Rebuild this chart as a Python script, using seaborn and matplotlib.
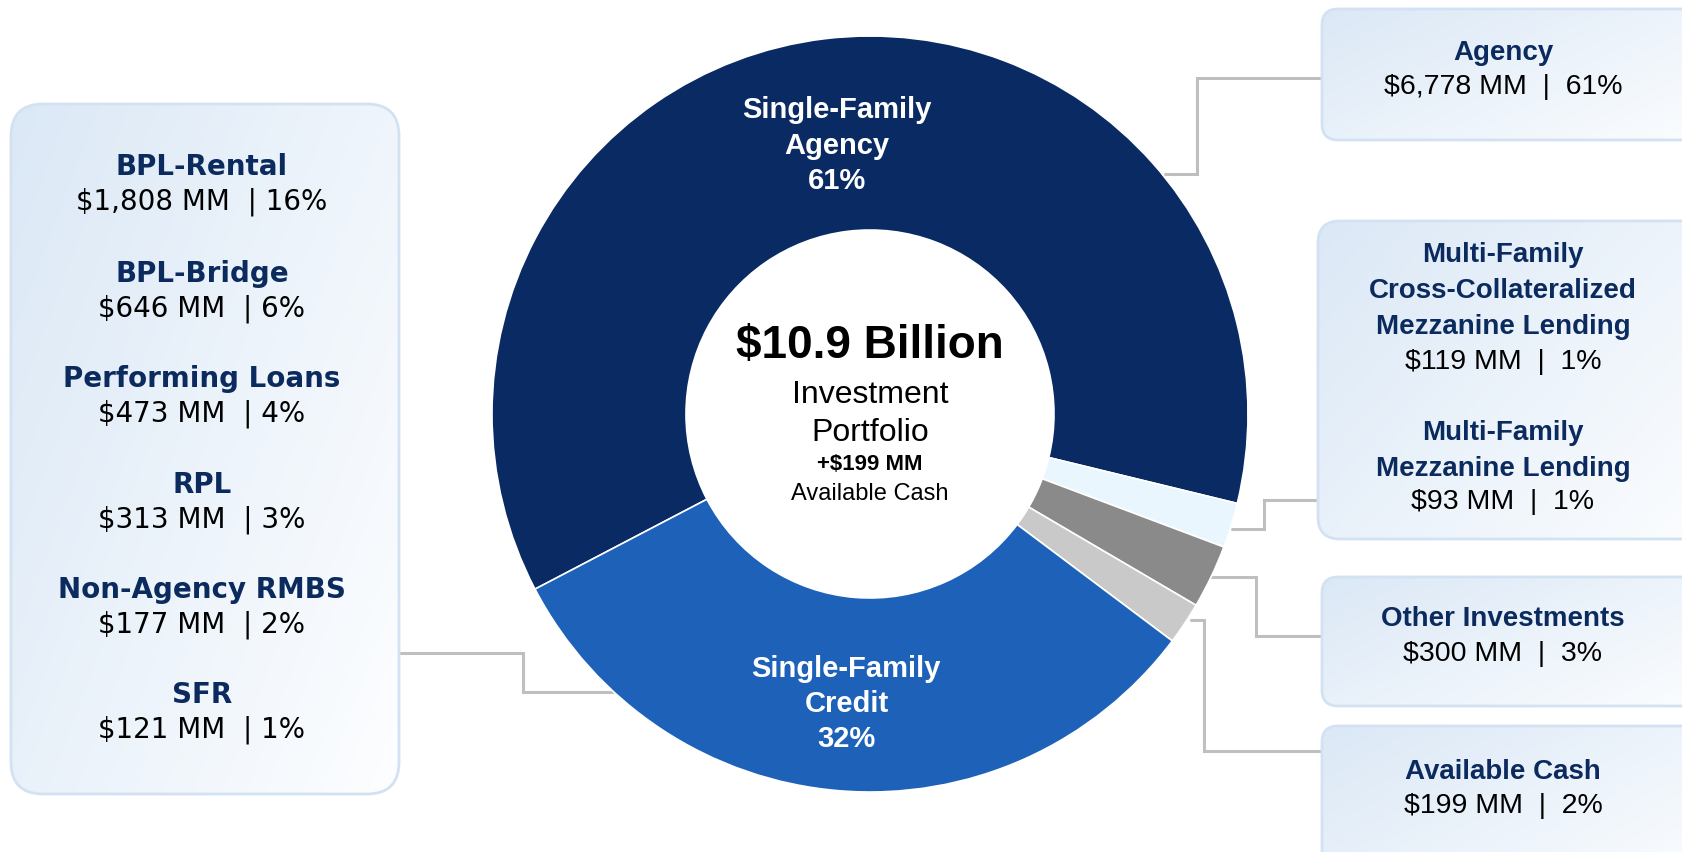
import numpy as np
import seaborn as sns
import matplotlib.pyplot as plt
from matplotlib.patches import FancyBboxPatch

# ---- data ----
slice_names = ["Single-Family Agency", "Multi-Family", "Other Investments",
               "Available Cash", "Single-Family Credit"]
credit_names = ["BPL-Rental", "BPL-Bridge", "Performing Loans", "RPL",
                "Non-Agency RMBS", "SFR"]
credit_values = [1808, 646, 473, 313, 177, 121]
credit_pcts = [16, 6, 4, 3, 2, 1]
mf_names = ["Multi-Family\nCross-Collateralized\nMezzanine Lending",
            "Multi-Family\nMezzanine Lending"]
mf_values = [119, 93]
mf_pcts = [1, 1]
agency_value, agency_pct = 6778, 61
other_value, other_pct = 300, 3
cash_value, cash_pct = 199, 2
credit_total_pct = 32

slice_values = [agency_value, sum(mf_values), other_value, cash_value, sum(credit_values)]
slice_colors = ["#0a2a63", "#eaf6fd", "#8a8a8a", "#c9c9c9", "#1d62b8"]

NAVY = "#0b2a5e"
LINE = "#bfbfbf"
W, H = 1683, 852

sns.set_theme(style="white")
plt.rcParams["font.family"] = ["Liberation Sans", "DejaVu Sans"]

fig = plt.figure(figsize=(W / 100, H / 100), dpi=100)
fig.patch.set_facecolor("white")

# background axes in pixel units (y down)
ax = fig.add_axes([0, 0, 1, 1])
ax.set_axis_off()


def gradient_box(x0, y0, w, h, rad):
    patch = FancyBboxPatch((x0, y0), w, h,
                           boxstyle=f"round,pad=0,rounding_size={rad}",
                           fc="none", ec="#d3e2f2", lw=2, zorder=3)
    ax.add_patch(patch)
    n = 200
    xx, yy = np.meshgrid(np.linspace(0, 1, n), np.linspace(0, 1, n))
    t = np.clip((xx * 0.6 + yy * 0.4), 0, 1)[..., None]
    c0 = np.array([219, 232, 246]) / 255
    c1 = np.array([253, 254, 255]) / 255
    img = c0 * (1 - t) + c1 * t
    im = ax.imshow(img, extent=(x0, x0 + w, y0 + h, y0), aspect="auto",
                   zorder=2, interpolation="bilinear")
    im.set_clip_path(patch)


def fmt(v, p):
    return f"${v:,} MM  |  {p}%"


# boxes
gradient_box(11, 104, 388, 690, 32)
gradient_box(1322, 9, 420, 131, 16)
gradient_box(1318, 221, 420, 318, 22)
gradient_box(1322, 577, 420, 129, 16)
gradient_box(1322, 726, 420, 160, 16)

# left box text
left_y = [167, 274, 379, 485, 590, 695]
for name, v, p, y in zip(credit_names, credit_values, credit_pcts, left_y):
    ax.text(202, y, name, ha="center", va="center", fontsize=20,
            fontweight="bold", color=NAVY, family="DejaVu Sans", zorder=5)
    ax.text(202, y + 35, f"${v:,} MM  | {p}%", ha="center", va="center",
            fontsize=20, color="black", family="DejaVu Sans", zorder=5)

# right boxes text
rx = 1503
ax.text(rx, 53, "Agency", ha="center", va="center", fontsize=20,
        fontweight="bold", color=NAVY, zorder=5)
ax.text(rx, 87, fmt(agency_value, agency_pct), ha="center", va="center",
        fontsize=20.5, color="black", zorder=5)

ax.text(rx, 291, mf_names[0], ha="center", va="center", fontsize=20,
        fontweight="bold", color=NAVY, linespacing=1.5, zorder=5)
ax.text(rx, 362, fmt(mf_values[0], mf_pcts[0]), ha="center", va="center",
        fontsize=20.5, color="black", zorder=5)
ax.text(rx, 451, mf_names[1], ha="center", va="center", fontsize=20,
        fontweight="bold", color=NAVY, linespacing=1.5, zorder=5)
ax.text(rx, 502, fmt(mf_values[1], mf_pcts[1]), ha="center", va="center",
        fontsize=20.5, color="black", zorder=5)

ax.text(rx, 619, "Other Investments", ha="center", va="center", fontsize=20,
        fontweight="bold", color=NAVY, zorder=5)
ax.text(rx, 654, fmt(other_value, other_pct), ha="center", va="center",
        fontsize=20.5, color="black", zorder=5)

ax.text(rx, 772, "Available Cash", ha="center", va="center", fontsize=20,
        fontweight="bold", color=NAVY, zorder=5)
ax.text(rx, 806, fmt(cash_value, cash_pct), ha="center", va="center",
        fontsize=20.5, color="black", zorder=5)

# connector lines
connectors = [
    [(1165, 174), (1197, 174), (1197, 78), (1322, 78)],
    [(1232, 529), (1264, 529), (1264, 500), (1318, 500)],
    [(1207, 577), (1256, 577), (1256, 636), (1322, 636)],
    [(1191, 620), (1204, 620), (1204, 751), (1322, 751)],
    [(399, 653), (523, 653), (523, 692), (614, 692)],
]
for path in connectors:
    xs, ys = zip(*path)
    ax.plot(xs, ys, color=LINE, lw=2.2, zorder=1, solid_joinstyle="miter")

# center text
cx, cy = 870, 414
ax.text(cx, 346, "$10.9 Billion", ha="center", va="center", fontsize=33,
        fontweight="bold", color="black", zorder=5)
ax.text(cx, 414, "Investment\nPortfolio", ha="center", va="center",
        fontsize=23, color="black", linespacing=1.38, zorder=5)
ax.text(cx, 465, f"+${cash_value} MM", ha="center", va="center", fontsize=16,
        fontweight="bold", color="black", zorder=5)
ax.text(cx, 494, "Available Cash", ha="center", va="center", fontsize=17,
        color="black", zorder=5)

ax.set_xlim(0, W)
ax.set_ylim(H, 0)

# donut
R = 378
pax = fig.add_axes([(cx - R) / W, (H - cy - R) / H, 2 * R / W, 2 * R / H])
wedges, _ = pax.pie(slice_values, colors=slice_colors, startangle=207.6,
                    counterclock=False, radius=1,
                    wedgeprops=dict(width=1 - 184 / R, edgecolor="white",
                                    linewidth=1.2))
pax.set_xlim(-1, 1)
pax.set_ylim(-1, 1)
pax.set_axis_off()

inner_labels = {0: (f"Single-Family\nAgency\n{agency_pct}%", 0.715),
                4: (f"Single-Family\nCredit\n{credit_total_pct}%", 0.77)}
for i, (txt, r) in inner_labels.items():
    th = np.deg2rad((wedges[i].theta1 + wedges[i].theta2) / 2)
    pax.text(r * np.cos(th), r * np.sin(th), txt, ha="center", va="center",
             color="white", fontsize=21, fontweight="bold", linespacing=1.33)

fig.savefig("out.png", dpi=100, facecolor="white")
